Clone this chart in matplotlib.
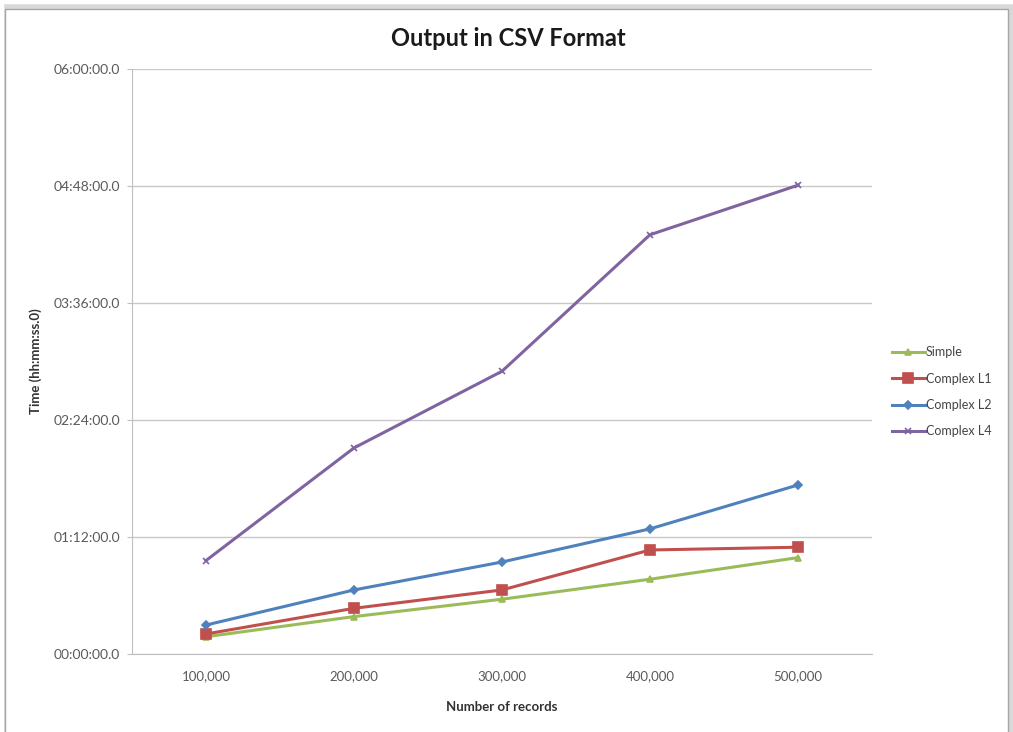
import matplotlib.pyplot as plt
from matplotlib.patches import Rectangle
from matplotlib.ticker import FuncFormatter, MultipleLocator

# Data (times in minutes)
records = ["100,000", "200,000", "300,000", "400,000", "500,000"]
simple = [10.6, 23.0, 33.7, 46.0, 59.3]
complex_l1 = [12.3, 28.1, 39.4, 64.0, 65.7]
complex_l2 = [17.8, 39.4, 56.6, 77.0, 104.0]
complex_l4 = [57.5, 126.8, 174.0, 258.0, 288.5]

series_names = ["Simple", "Complex L1", "Complex L2", "Complex L4"]
colors = ["#9BBB59", "#C0504D", "#4F81BD", "#8064A2"]
markers = ["^", "s", "D", "x"]
msizes = [5, 7, 4, 4]

plt.rcParams['font.family'] = ['Lato', 'DejaVu Sans']


def hhmmss(v, pos):
    h = int(v // 60)
    m = int(v % 60)
    return "%02d:%02d:00.0" % (h, m)


def main():
    fig = plt.figure(figsize=(10.13, 7.32), dpi=100)

    # chart frame with a soft shadow, like the pasted Excel picture
    fig.patches.append(Rectangle((0.007, -0.01), 0.991, 1.0, transform=fig.transFigure,
                                 facecolor="none", edgecolor="#d8d8d8", lw=4, zorder=-2))
    fig.patches.append(Rectangle((0.005, -0.01), 0.99, 0.998, transform=fig.transFigure,
                                 facecolor="white", edgecolor="#a6a6a6", lw=1.0, zorder=-1))

    ax = fig.add_axes([0.1303, 0.1066, 0.7305, 0.7991])
    ax.set_zorder(2)
    ax.patch.set_alpha(0)
    x = range(1, len(records) + 1)
    data = [simple, complex_l1, complex_l2, complex_l4]
    for vals, name, c, mk, ms in zip(data, series_names, colors, markers, msizes):
        ax.plot(x, vals, color=c, lw=2.2, marker=mk, ms=ms, mew=1.2,
                mfc=c, mec=c, label=name, zorder=3)

    ax.set_xlim(0.5, 5.5)
    ax.set_ylim(0, 360)
    ax.yaxis.set_major_locator(MultipleLocator(72))
    ax.yaxis.set_major_formatter(FuncFormatter(hhmmss))
    ax.set_xticks(list(x))
    ax.set_xticklabels(records)
    ax.grid(axis="y", color="#c8c8c8", lw=1.0)
    ax.set_axisbelow(True)
    for s in ["top", "right"]:
        ax.spines[s].set_visible(False)
    ax.spines["left"].set_color("#c0c0c0")
    ax.spines["bottom"].set_color("#c0c0c0")
    ax.tick_params(axis="y", colors="#c0c0c0", labelcolor="#5a5a5a", labelsize=10,
                   length=3.6, pad=5)
    ax.tick_params(axis="x", length=0, labelcolor="#5a5a5a", labelsize=9.5, pad=12)

    ax.set_xlabel("Number of records", fontsize=9.5, fontweight="bold",
                  color="#333333", labelpad=13)
    ax.set_ylabel("Time (hh:mm:ss.0)", fontsize=9.5, fontweight="bold",
                  color="#333333", labelpad=8)
    fig.text(0.502, 0.948, "Output in CSV Format", ha="center", va="center",
             fontsize=17, fontweight="bold", color="#1a1a1a")

    ax.legend(loc="center left", bbox_to_anchor=(1.012, 0.448), frameon=False,
              fontsize=9, handlelength=2.6, handletextpad=0.1, labelspacing=1.15,
              labelcolor="#444444")

    fig.savefig("out.png", dpi=100)


main()
